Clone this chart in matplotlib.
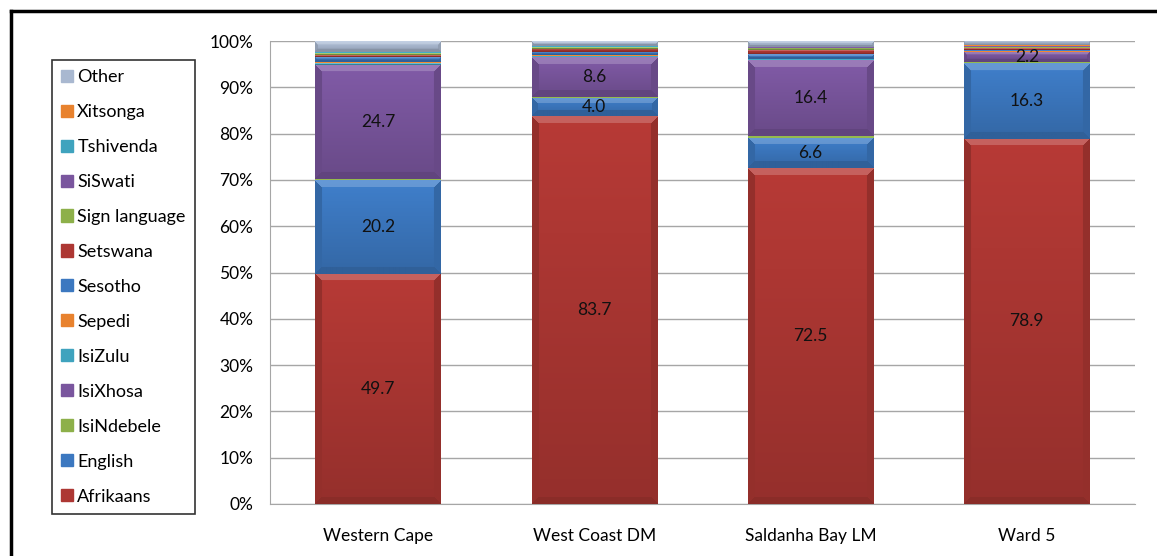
import numpy as np
import matplotlib.pyplot as plt
from matplotlib.lines import Line2D
from matplotlib.patches import Patch
from matplotlib.colors import to_rgb

plt.rcParams['font.family'] = ['Lato', 'DejaVu Sans']

areas = ["Western Cape", "West Coast DM", "Saldanha Bay LM", "Ward 5"]
languages = ["Afrikaans", "English", "IsiNdebele", "IsiXhosa", "IsiZulu", "Sepedi",
             "Sesotho", "Setswana", "Sign language", "SiSwati", "Tshivenda",
             "Xitsonga", "Other"]

# percent of population per home language, bottom to top
afrikaans = [49.7, 83.7, 72.5, 78.9]
english = [20.2, 4.0, 6.6, 16.3]
isindebele = [0.3, 0.3, 0.3, 0.2]
isixhosa = [24.7, 8.6, 16.4, 2.2]
isizulu = [0.4, 0.2, 0.3, 0.1]
sepedi = [0.2, 0.1, 0.1, 0.1]
sesotho = [1.1, 0.7, 1.0, 0.3]
setswana = [0.4, 0.7, 0.8, 0.4]
sign_language = [0.4, 0.4, 0.5, 0.3]
siswati = [0.1, 0.1, 0.1, 0.1]
tshivenda = [0.1, 0.1, 0.1, 0.1]
xitsonga = [0.1, 0.1, 0.1, 0.1]
other = [2.2, 1.0, 1.2, 0.9]

series = [afrikaans, english, isindebele, isixhosa, isizulu, sepedi, sesotho,
          setswana, sign_language, siswati, tshivenda, xitsonga, other]
labelled = ["Afrikaans", "English", "IsiXhosa"]

colors = ["#AD3733", "#3C78C0", "#8DB04A", "#7A569E", "#3FA3BE", "#E8822E",
          "#3C78C0", "#AD3733", "#8DB04A", "#7A569E", "#3FA3BE", "#E8822E",
          "#A9B8D0"]

W, H = 1157, 556
fig = plt.figure(figsize=(W / 100, H / 100), dpi=100)
ax = fig.add_axes([270 / W, 1 - 504 / H, (1135 - 270) / W, (504 - 41) / H])

x = np.arange(len(areas))
bar_w = 0.58
ax.set_xlim(-0.5, len(areas) - 0.5)
ax.set_ylim(0, 100)

px_x = (1135 - 270) / len(areas)   # pixels per category
px_y = (504 - 41) / 100.0          # pixels per percent


def bevel(color, w, h, b=7):
    # shaded block: lighter top rim, darker sides and bottom, soft vertical fade
    w = max(int(round(w)), 1)
    h = max(int(round(h)), 1)
    base = np.array(to_rgb(color))
    yy, xx = np.mgrid[0:h, 0:w]
    dt = yy + 0.5
    db = h - yy - 0.5
    dl = xx + 0.5
    dr = w - xx - 0.5
    fade = 1.06 - 0.2 * (yy / max(h - 1, 1))
    shade = fade.copy()
    bb = min(b, h / 3.0)
    near = np.minimum(np.minimum(dt, db), np.minimum(dl, dr))
    rim = near < bb
    top = rim & (dt <= np.minimum(dl, dr)) & (dt <= db)
    bot = rim & (db < dt) & (db <= np.minimum(dl, dr))
    side = rim & ~top & ~bot
    shade[side] = 0.86
    shade[bot] = 0.8
    img = np.clip(base[None, None, :] * shade[..., None], 0, 1)
    lift = np.zeros((h, w))
    lift[top] = 0.2
    img = img + (1 - img) * lift[..., None]
    return img


bottoms = np.zeros(len(areas))
for name, vals, col in zip(languages, series, colors):
    vals = np.array(vals)
    for i in range(len(areas)):
        if vals[i] <= 0:
            continue
        img = bevel(col, bar_w * px_x, vals[i] * px_y)
        ax.imshow(img, extent=(x[i] - bar_w / 2, x[i] + bar_w / 2,
                               bottoms[i], bottoms[i] + vals[i]),
                  aspect='auto', interpolation='bilinear', zorder=3)
        if name in labelled:
            ax.text(x[i], bottoms[i] + vals[i] / 2, f"{vals[i]:.1f}",
                    ha='center', va='center', fontsize=12.5, color='#111111',
                    zorder=4)
    bottoms += vals

ax.set_xlim(-0.5, len(areas) - 0.5)
ax.set_ylim(0, 100)
ax.set_yticks(np.arange(0, 101, 10))
ax.set_yticklabels([f"{v}%" for v in range(0, 101, 10)], fontsize=12.5)
ax.set_xticks(x)
ax.set_xticklabels(areas, fontsize=12.5)
ax.tick_params(length=0, pad=12)
ax.tick_params(axis='x', pad=17)
ax.grid(axis='y', color='#A6A6A6', linewidth=1)
ax.set_axisbelow(True)
for s in ['top', 'right']:
    ax.spines[s].set_visible(False)
for s in ['left', 'bottom']:
    ax.spines[s].set_color('#A6A6A6')

handles = [Patch(facecolor=c, edgecolor=c) for c in colors]
leg = fig.legend(handles[::-1], languages[::-1], loc='upper left',
                 bbox_to_anchor=(52 / W, 1 - 60 / H), fontsize=13,
                 frameon=True, fancybox=False, edgecolor='black',
                 handlelength=0.65, handleheight=0.65, handletextpad=0.25,
                 labelspacing=1.05, borderpad=0.5, borderaxespad=0)
leg.get_frame().set_linewidth(1.2)

# outer frame
fig.add_artist(Line2D([11 / W, 11 / W], [0, 1 - 11 / H], color='black',
                      lw=2.5, transform=fig.transFigure))
fig.add_artist(Line2D([11 / W, 1], [1 - 11 / H, 1 - 11 / H], color='black',
                      lw=2.5, transform=fig.transFigure))

fig.savefig("out.png", dpi=100)
